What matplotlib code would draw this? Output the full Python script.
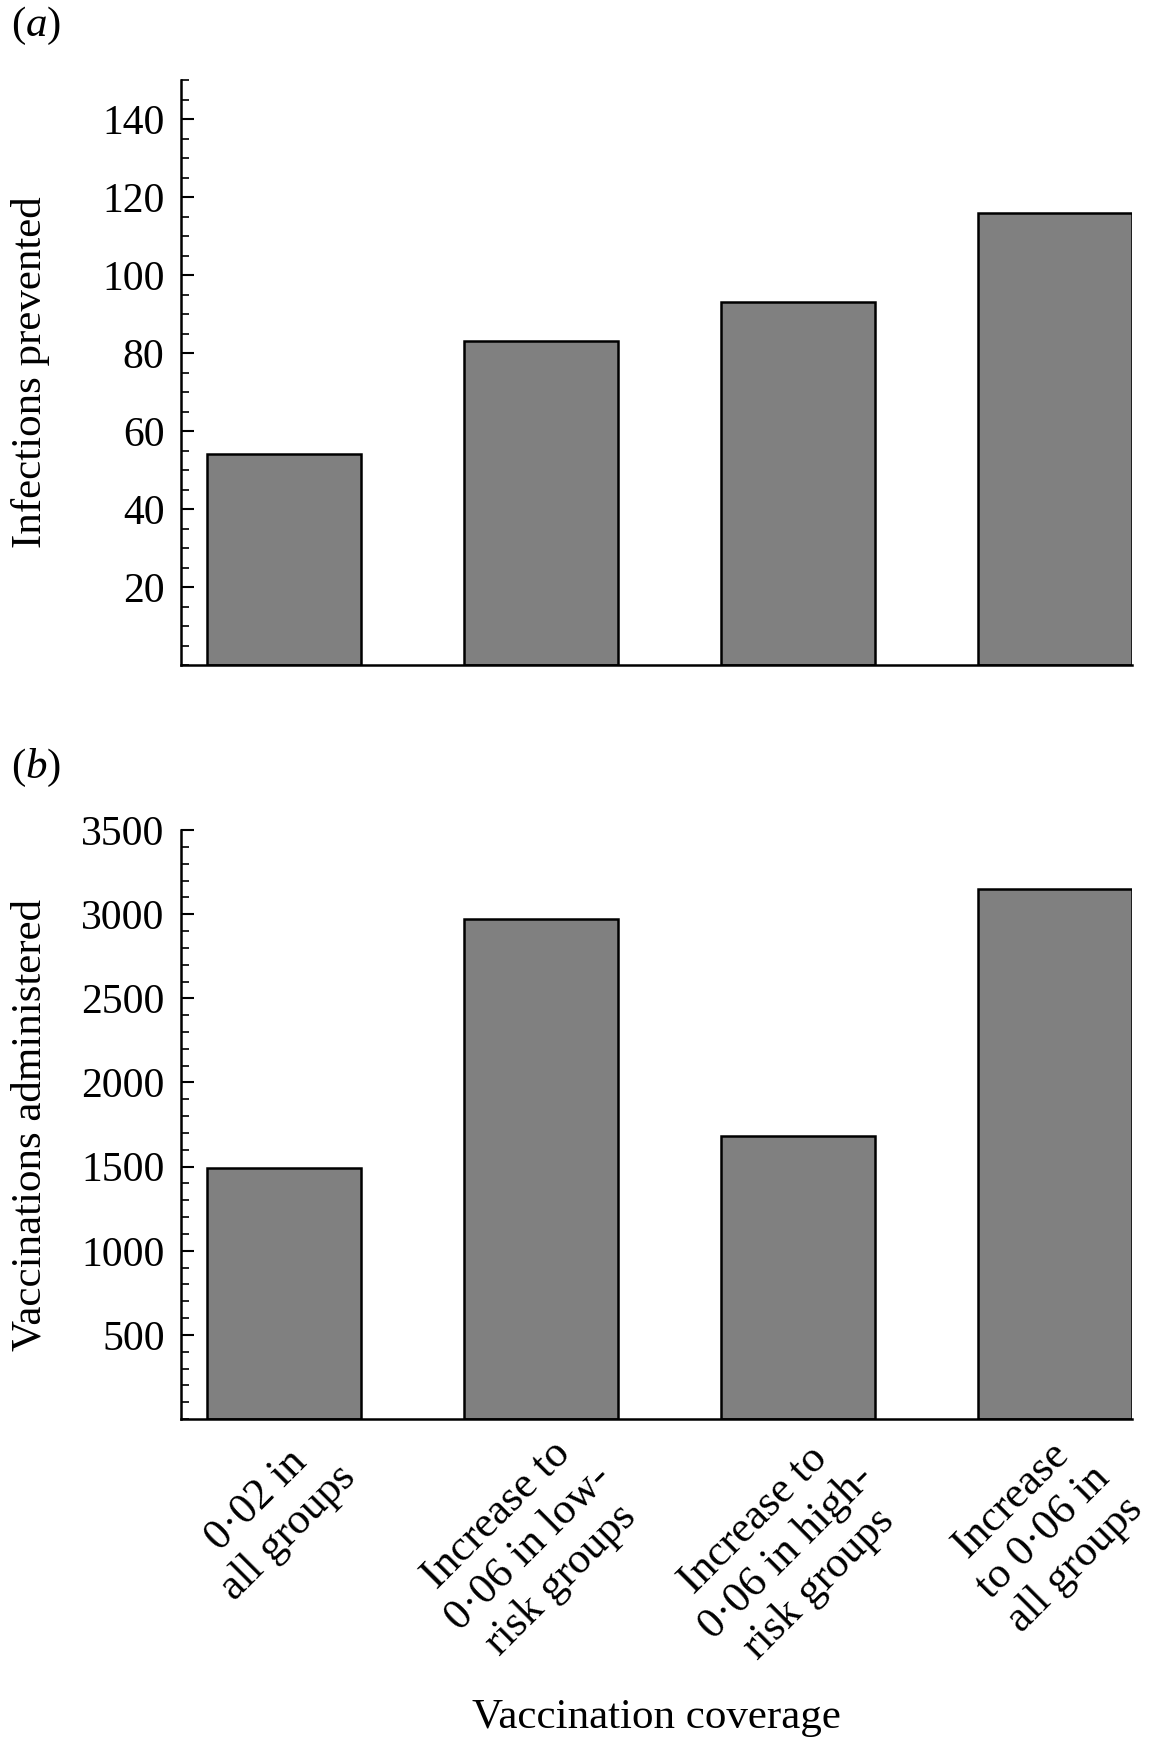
import matplotlib.pyplot as plt
from matplotlib.ticker import MultipleLocator
from matplotlib.transforms import ScaledTranslation

plt.rcParams['font.family'] = ['Liberation Serif', 'DejaVu Serif']
plt.rcParams['mathtext.fontset'] = 'custom'
plt.rcParams['mathtext.rm'] = 'Liberation Serif'
plt.rcParams['mathtext.it'] = 'Liberation Serif:italic'

# data
categories = [
    '0\u00b702 in\nall groups',
    'Increase to\n0\u00b706 in low-\nrisk groups',
    'Increase to\n0\u00b706 in high-\nrisk groups',
    'Increase\nto 0\u00b706 in\nall groups',
]
infections_prevented = [54, 83, 93, 116]
vaccinations_administered = [1490, 2970, 1680, 3150]

fig = plt.figure(figsize=(11.67, 17.45), dpi=100)
ax_a = fig.add_axes([0.1553, 0.6189, 0.815, 0.3352])
ax_b = fig.add_axes([0.1553, 0.1868, 0.815, 0.3375])

x = list(range(len(categories)))
fs = 30

for ax, vals, ylab, ymax, major, minor in [
    (ax_a, infections_prevented, 'Infections prevented', 150, 20, 5),
    (ax_b, vaccinations_administered, 'Vaccinations administered', 3500, 500, 100),
]:
    ax.bar(x, vals, width=0.6, color='#808080', edgecolor='black', linewidth=1.8)
    ax.set_xlim(-0.4, 3.3)
    ax.set_ylim(0, ymax)
    ax.yaxis.set_major_locator(MultipleLocator(major))
    ax.yaxis.set_minor_locator(MultipleLocator(minor))
    ax.set_yticks([t for t in range(major, ymax + 1, major)])
    ax.tick_params(axis='y', which='major', direction='in', length=9, width=1.5,
                   pad=12, labelsize=fs)
    ax.tick_params(axis='y', which='minor', direction='in', length=6, width=1.2)
    ax.tick_params(axis='x', length=0)
    for s in ['top', 'right']:
        ax.spines[s].set_visible(False)
    for s in ['left', 'bottom']:
        ax.spines[s].set_linewidth(1.8)
    ax.set_ylabel(ylab, fontsize=31)
    ax.yaxis.set_label_coords(-0.138, 0.5)

ax_a.set_xticks(x)
ax_a.set_xticklabels([])

ax_b.set_xticks(x)
ax_b.set_xticklabels(categories, rotation=45, ha='center', multialignment='center',
                     fontsize=31.5, linespacing=1.18)
ax_b.tick_params(axis='x', pad=4)
# labels sit a little left of the bar centres in the original
shift = ScaledTranslation(-0.12, 0, fig.dpi_scale_trans)
for lab in ax_b.get_xticklabels():
    lab.set_transform(lab.get_transform() + shift)
ax_b.set_xlabel('Vaccination coverage', fontsize=31)
ax_b.xaxis.set_label_coords(0.5, -0.475)

fig.text(0.009, 0.997, '($\\it{a}$)', fontsize=31, va='top', ha='left')
fig.text(0.009, 0.572, '($\\it{b}$)', fontsize=31, va='top', ha='left')

plt.savefig('out.png', dpi=100)
plt.close()
